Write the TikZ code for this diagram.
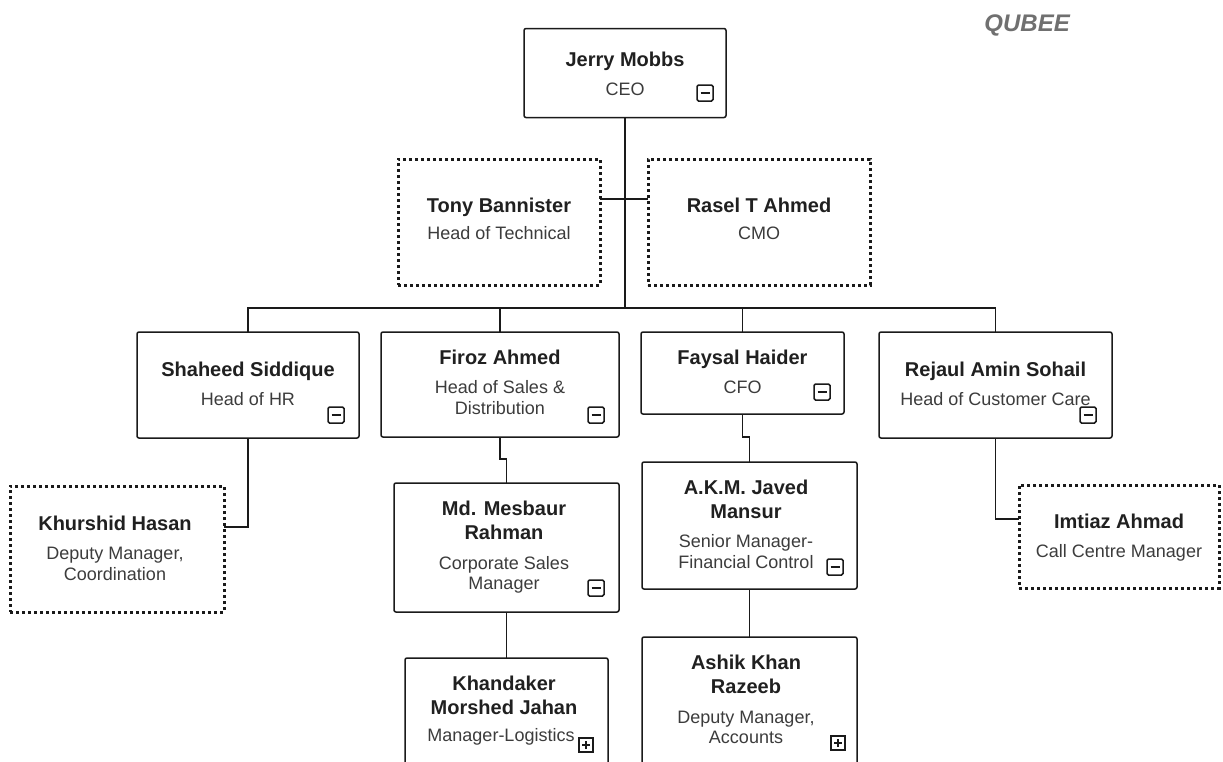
\documentclass[tikz,border=0pt]{standalone}
\usepackage{fontspec}
\setmainfont{Liberation Sans}
\definecolor{ln}{HTML}{1A1A1A}
\definecolor{nmc}{HTML}{202020}
\definecolor{tlc}{HTML}{3C3C3C}
\definecolor{qc}{HTML}{707070}
\tikzset{
  box/.style={draw=ln, line width=1.5pt, rounded corners=2pt, inner sep=0pt, outer sep=0pt, fill=white},
  dotbox/.style={draw=ln, line width=3pt, dash pattern=on 3pt off 3pt, inner sep=0pt, outer sep=0pt},
  nm/.style={anchor=base, inner sep=0pt, text=nmc, font=\fontsize{20}{24}\selectfont\bfseries},
  tl/.style={anchor=base, inner sep=0pt, text=tlc, font=\fontsize{18}{21}\selectfont},
  conn/.style={draw=ln, line width=1.4pt},
  minusbox/.style={draw=ln, line width=1.5pt, rounded corners=1.5pt, minimum size=16pt, inner sep=0pt, fill=white,
    path picture={\draw[ln, line width=1.4pt] ([xshift=-4.5pt]path picture bounding box.center) -- ([xshift=4.5pt]path picture bounding box.center);}},
  plusbox/.style={draw=ln, line width=1.4pt, minimum size=14pt, inner sep=0pt, fill=white,
    path picture={\draw[ln, line width=1.3pt] ([xshift=-4pt]path picture bounding box.center) -- ([xshift=4pt]path picture bounding box.center)
      ([yshift=-4pt]path picture bounding box.center) -- ([yshift=4pt]path picture bounding box.center);}}
}
\begin{document}
\begin{tikzpicture}[x=1pt,y=-1pt]
\useasboundingbox (0,0) rectangle (1223,761);
\fill[white] (0,0) rectangle (1223,761);
\clip (0,0) rectangle (1223,761);

% title
\node[anchor=base east, inner sep=0pt, text=qc, font=\fontsize{24}{27}\selectfont\bfseries\itshape] (qubee) at (1070,31) {QUBEE};

% junction coordinates
\coordinate (bus) at (625,308);
\coordinate (j1) at (625,199);
\coordinate (khc) at (224,527);
\coordinate (fj) at (500,459);
\coordinate (faj) at (742.5,437);
\coordinate (imc) at (1019,519);

% boxes
\node[box, minimum width=202pt, minimum height=89pt] (ceo) at (625,73) {};
\node[dotbox, minimum width=202pt, minimum height=126pt] (tony) at (499,222) {};
\node[dotbox, minimum width=222pt, minimum height=126pt] (rasel) at (759,222) {};
\node[box, minimum width=222pt, minimum height=106pt] (sh) at (248,385) {};
\node[box, minimum width=238pt, minimum height=105pt] (fi) at (500,384.5) {};
\node[box, minimum width=203pt, minimum height=82pt] (fa) at (742.5,373) {};
\node[box, minimum width=233pt, minimum height=106pt] (re) at (995.5,385) {};
\node[dotbox, minimum width=214pt, minimum height=126pt] (kh) at (117,549) {};
\node[box, minimum width=225pt, minimum height=129pt] (md) at (506.5,547.5) {};
\node[box, minimum width=215pt, minimum height=127pt] (ja) at (749.5,525.5) {};
\node[dotbox, minimum width=200pt, minimum height=103pt] (im) at (1119,536.5) {};
\node[box, minimum width=203pt, minimum height=160pt] (kd) at (506.5,738) {};
\node[box, minimum width=215pt, minimum height=160pt] (as) at (749.5,717) {};

% connectors
\draw[conn] (ceo.south) -- (bus);
\draw[conn] (tony.east|-j1) -- (rasel.west|-j1);
\draw[conn] (sh.north) |- (bus) -| (re.north);
\draw[conn] (fi.north) -- (fi.north|-bus);
\draw[conn] (fa.north) -- (fa.north|-bus);
\draw[conn] (sh.south) |- (khc);
\draw[conn] (fi.south) -- (fj) -| (md.north);
\draw[conn] (fa.south) -- (faj) -| (ja.north);
\draw[conn] (re.south) |- (imc);
\draw[conn] (md.south) -- (kd.north);
\draw[conn] (ja.south) -- (as.north);

% texts
\node[nm] (ceo-n) at (625,66) {Jerry Mobbs};
\node[tl] (ceo-t) at (625,95.5) {CEO};
\node[nm] (tony-n) at (499,212) {Tony Bannister};
\node[tl] (tony-t) at (499,239.5) {Head of Technical};
\node[nm] (rasel-n) at (759,212) {Rasel T Ahmed};
\node[tl] (rasel-t) at (759,239.5) {CMO};
\node[nm] (sh-n) at (248,376) {Shaheed Siddique};
\node[tl] (sh-t) at (248,405.5) {Head of HR};
\node[nm] (fi-n) at (500,364) {Firoz Ahmed};
\node[tl] (fi-t1) at (500,393.5) {Head of Sales \&};
\node[tl] (fi-t2) at (500,414.5) {Distribution};
\node[nm] (fa-n) at (742.5,364) {Faysal Haider};
\node[tl] (fa-t) at (742.5,393.5) {CFO};
\node[nm] (re-n) at (995.5,376) {Rejaul Amin Sohail};
\node[tl] (re-t) at (995.5,405.5) {Head of Customer Care};
\node[nm] (kh-n) at (115,530) {Khurshid Hasan};
\node[tl] (kh-t1) at (115,559.5) {Deputy Manager,};
\node[tl] (kh-t2) at (115,580.5) {Coordination};
\node[nm] (md-n1) at (504,515) {Md. Mesbaur};
\node[nm] (md-n2) at (504,539) {Rahman};
\node[tl] (md-t1) at (504,569.5) {Corporate Sales};
\node[tl] (md-t2) at (504,589.5) {Manager};
\node[nm] (ja-n1) at (746,494) {A.K.M. Javed};
\node[nm] (ja-n2) at (746,518) {Mansur};
\node[tl] (ja-t1) at (746,547.5) {Senior Manager-};
\node[tl] (ja-t2) at (746,568.5) {Financial Control};
\node[nm] (im-n) at (1119,528) {Imtiaz Ahmad};
\node[tl] (im-t) at (1119,557.5) {Call Centre Manager};
\node[nm] (kd-n1) at (504,690) {Khandaker};
\node[nm] (kd-n2) at (504,714) {Morshed Jahan};
\node[tl] (kd-t) at (501,741.5) {Manager-Logistics};
\node[nm] (as-n1) at (746,669) {Ashik Khan};
\node[nm] (as-n2) at (746,693) {Razeeb};
\node[tl] (as-t1) at (746,723.5) {Deputy Manager,};
\node[tl] (as-t2) at (746,743.5) {Accounts};

% expand / collapse icons
\node[minusbox] (ceo-i) at (705,93) {};
\node[minusbox] (sh-i) at (336,415) {};
\node[minusbox] (fi-i) at (596,415) {};
\node[minusbox] (fa-i) at (822,392) {};
\node[minusbox] (re-i) at (1088,415) {};
\node[minusbox] (md-i) at (596,588) {};
\node[minusbox] (ja-i) at (835,567) {};
\node[plusbox] (kd-i) at (586,745) {};
\node[plusbox] (as-i) at (838,743) {};
\end{tikzpicture}
\end{document}
